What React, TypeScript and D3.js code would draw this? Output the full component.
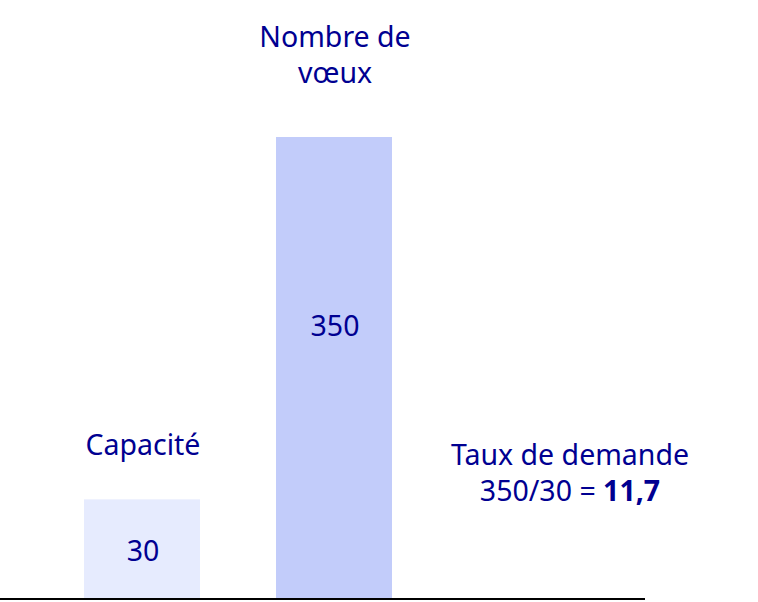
import React from "react";
import * as d3 from "d3";

const categories = ["Capacité", "Nombre de vœux"];
const labelLines = [["Capacité"], ["Nombre de", "vœux"]];
const values = [30, 350];
const ratioLines = ["Taux de demande", "350/30 = "];
const ratioValue = "11,7";

const W = 758;
const H = 602;
const BLUE = "#000091";
const barColors = ["#E6EBFE", "#C2CCFA"];
const FONT = "'Noto Sans', 'DejaVu Sans', sans-serif";
const FS = 28.5;
const valueFrac = [0.52, 0.41];
const labelGap = [44, 54];

export default function App() {
  const x = d3.scaleBand<string>().domain(categories).range([84, 392]).paddingInner(0.396).paddingOuter(0);
  const y = d3.scaleLinear().domain([-58, 350]).range([599, 137]);
  const baseY = 599;
  return (
    <svg width={W} height={H} style={{ position: "fixed", left: 0, top: 0, background: "#fff" }} fontFamily={FONT}>
      <rect width={W} height={H} fill="#fff" />
      {categories.map((c, i) => {
        const bx = x(c)!;
        const bw = x.bandwidth();
        const top = y(values[i]);
        const cx = bx + bw / 2;
        const lines = labelLines[i];
        const vy = top + (baseY - top) * valueFrac[i];
        return (
          <g key={c}>
            <rect x={bx} y={top} width={bw} height={baseY - top} fill={barColors[i]} />
            <text x={cx + 1} y={vy + 10} textAnchor="middle" fontSize={FS} fill={BLUE}>
              {values[i]}
            </text>
            {lines.map((l, j) => (
              <text key={j} x={cx + 1} y={top - labelGap[i] - (lines.length - 1 - j) * 36} textAnchor="middle" fontSize={FS} fill={BLUE}>
                {l}
              </text>
            ))}
          </g>
        );
      })}
      <text x={570} y={465} textAnchor="middle" fontSize={FS} fill={BLUE}>{ratioLines[0]}</text>
      <text x={570} y={501} textAnchor="middle" fontSize={FS} fill={BLUE}>
        {ratioLines[1]}
        <tspan fontWeight="bold">{ratioValue}</tspan>
      </text>
      <line x1={0} x2={645} y1={baseY} y2={baseY} stroke="#000" strokeWidth={2} />
    </svg>
  );
}
